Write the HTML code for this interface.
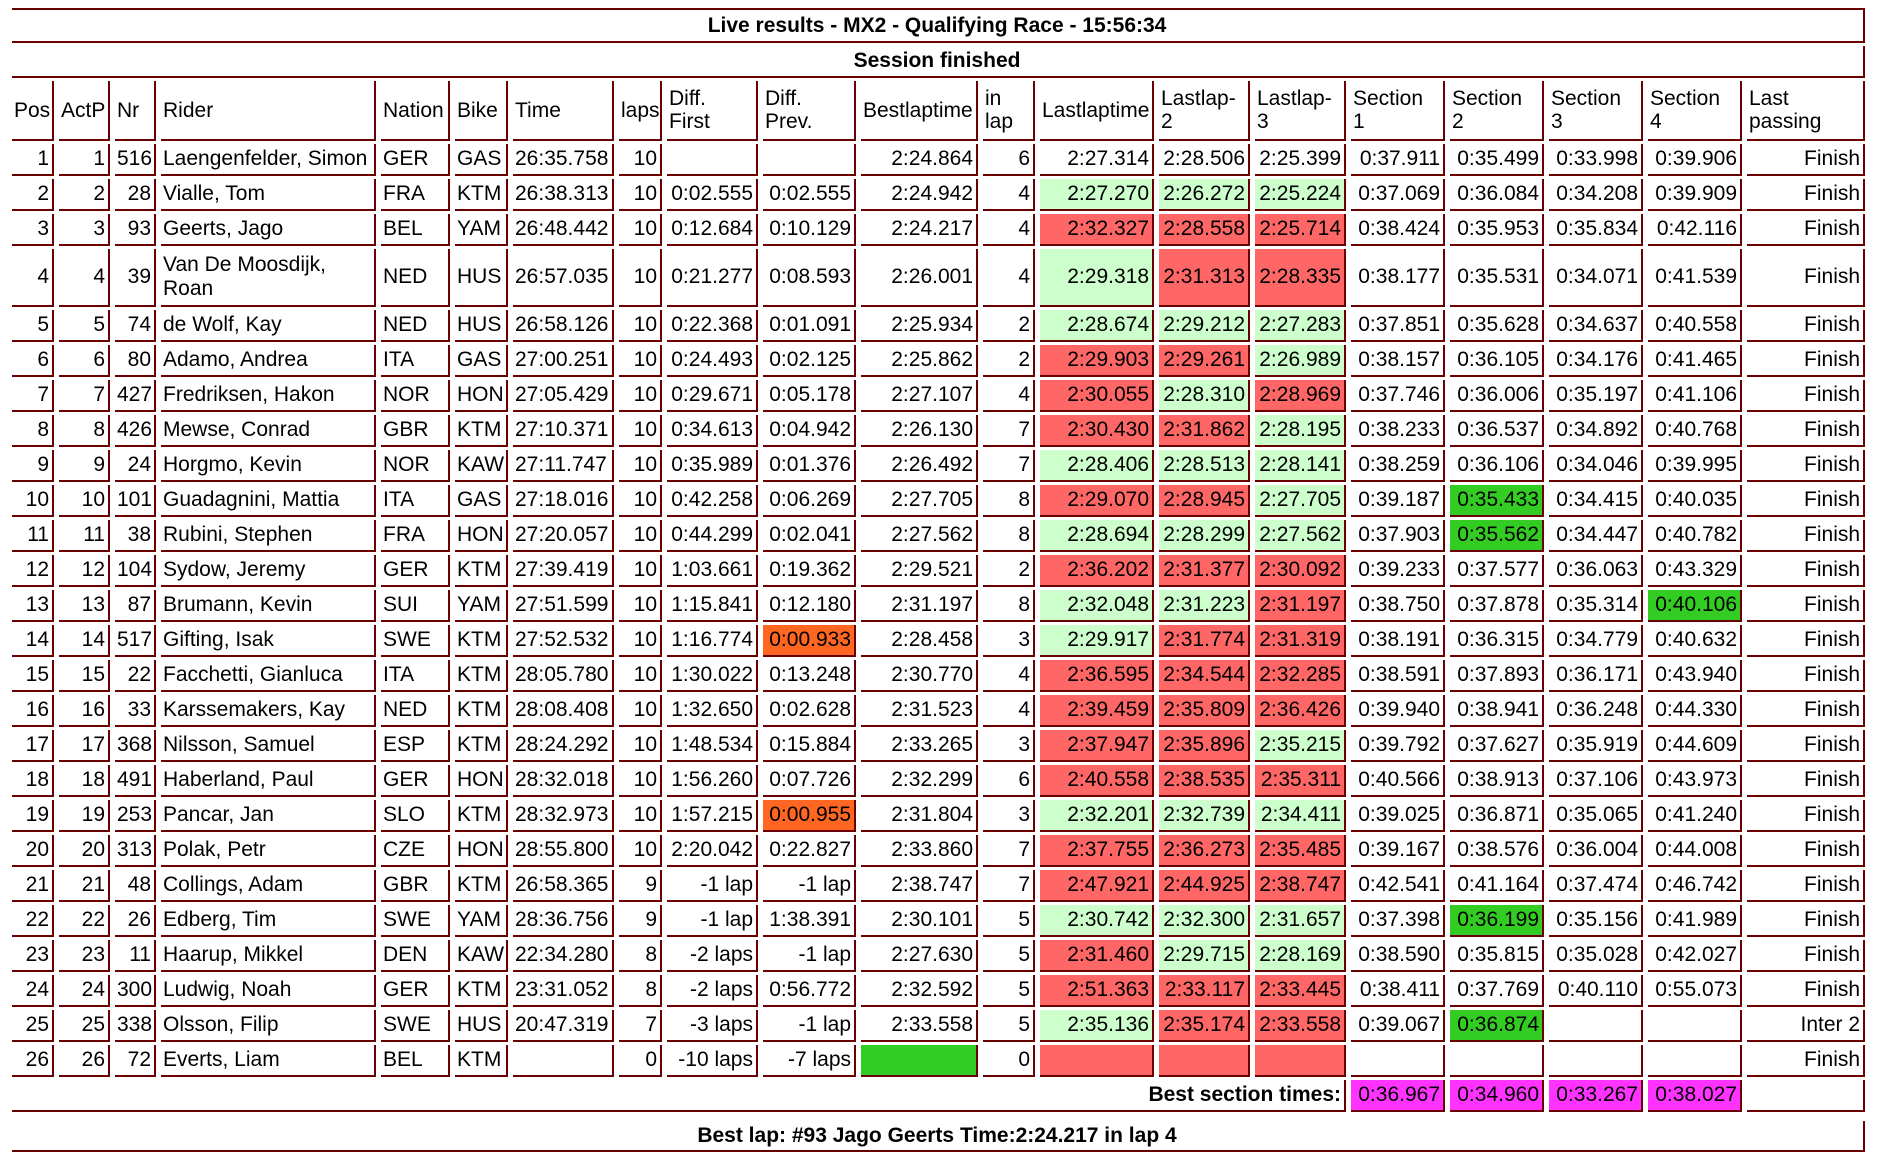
<!DOCTYPE html>
<html><head><meta charset="utf-8">
<style>
html,body{margin:0;padding:0;background:#fff;width:1886px;height:1166px;overflow:hidden;}
body{font-family:"Liberation Sans",Arial,sans-serif;font-size:21px;color:#000;position:relative;}
table{border-collapse:separate;border-spacing:5px 3px;table-layout:fixed;position:absolute;left:7px;}
td{box-sizing:border-box;border-right:2px solid #6b0000;border-bottom:2px solid #6b0000;padding:0 3px 0 2px;height:32px;text-align:right;white-space:nowrap;overflow:hidden;line-height:24px;}
td.l{text-align:left;}
tr.h td{height:60px;text-align:left;white-space:normal;line-height:23px;}
tr.t td{font-weight:bold;text-align:center;}
tr.tall td{height:58px;white-space:normal;}
.g{background:#ccffcc;}.r{background:#ff6666;}.G{background:#33cc22;}.o{background:#ff6622;}.m{background:#ff33ff;}
</style></head><body>
<table id="t1" style="top:5px;width:1863px">
<colgroup><col style="width:42px"><col style="width:51px"><col style="width:41px"><col style="width:215px"><col style="width:69px"><col style="width:53px"><col style="width:101px"><col style="width:43px"><col style="width:91px"><col style="width:93px"><col style="width:117px"><col style="width:52px"><col style="width:114px"><col style="width:91px"><col style="width:91px"><col style="width:94px"><col style="width:94px"><col style="width:94px"><col style="width:94px"><col style="width:118px"></colgroup>
<tr class="t"><td colspan="20" style="border-top:2px solid #6b0000;height:35px">Live results - MX2 - Qualifying Race - 15:56:34</td></tr>
<tr class="t"><td colspan="20">Session finished</td></tr>
<tr class="h"><td>Pos</td><td>ActP</td><td>Nr</td><td>Rider</td><td>Nation</td><td>Bike</td><td>Time</td><td>laps</td><td>Diff.<br>First</td><td>Diff.<br>Prev.</td><td>Bestlaptime</td><td>in<br>lap</td><td>Lastlaptime</td><td>Lastlap-<br>2</td><td>Lastlap-<br>3</td><td>Section<br>1</td><td>Section<br>2</td><td>Section<br>3</td><td>Section<br>4</td><td>Last<br>passing</td></tr>
<tr><td>1</td><td>1</td><td>516</td><td class="l">Laengenfelder, Simon</td><td class="l">GER</td><td class="l">GAS</td><td class="l">26:35.758</td><td>10</td><td></td><td></td><td>2:24.864</td><td>6</td><td>2:27.314</td><td>2:28.506</td><td>2:25.399</td><td>0:37.911</td><td>0:35.499</td><td>0:33.998</td><td>0:39.906</td><td>Finish</td></tr>
<tr><td>2</td><td>2</td><td>28</td><td class="l">Vialle, Tom</td><td class="l">FRA</td><td class="l">KTM</td><td class="l">26:38.313</td><td>10</td><td>0:02.555</td><td>0:02.555</td><td>2:24.942</td><td>4</td><td class="g">2:27.270</td><td class="g">2:26.272</td><td class="g">2:25.224</td><td>0:37.069</td><td>0:36.084</td><td>0:34.208</td><td>0:39.909</td><td>Finish</td></tr>
<tr><td>3</td><td>3</td><td>93</td><td class="l">Geerts, Jago</td><td class="l">BEL</td><td class="l">YAM</td><td class="l">26:48.442</td><td>10</td><td>0:12.684</td><td>0:10.129</td><td>2:24.217</td><td>4</td><td class="r">2:32.327</td><td class="r">2:28.558</td><td class="r">2:25.714</td><td>0:38.424</td><td>0:35.953</td><td>0:35.834</td><td>0:42.116</td><td>Finish</td></tr>
<tr class="tall"><td>4</td><td>4</td><td>39</td><td class="l">Van De Moosdijk, Roan</td><td class="l">NED</td><td class="l">HUS</td><td class="l">26:57.035</td><td>10</td><td>0:21.277</td><td>0:08.593</td><td>2:26.001</td><td>4</td><td class="g">2:29.318</td><td class="r">2:31.313</td><td class="r">2:28.335</td><td>0:38.177</td><td>0:35.531</td><td>0:34.071</td><td>0:41.539</td><td>Finish</td></tr>
<tr><td>5</td><td>5</td><td>74</td><td class="l">de Wolf, Kay</td><td class="l">NED</td><td class="l">HUS</td><td class="l">26:58.126</td><td>10</td><td>0:22.368</td><td>0:01.091</td><td>2:25.934</td><td>2</td><td class="g">2:28.674</td><td class="g">2:29.212</td><td class="g">2:27.283</td><td>0:37.851</td><td>0:35.628</td><td>0:34.637</td><td>0:40.558</td><td>Finish</td></tr>
<tr><td>6</td><td>6</td><td>80</td><td class="l">Adamo, Andrea</td><td class="l">ITA</td><td class="l">GAS</td><td class="l">27:00.251</td><td>10</td><td>0:24.493</td><td>0:02.125</td><td>2:25.862</td><td>2</td><td class="r">2:29.903</td><td class="r">2:29.261</td><td class="g">2:26.989</td><td>0:38.157</td><td>0:36.105</td><td>0:34.176</td><td>0:41.465</td><td>Finish</td></tr>
<tr><td>7</td><td>7</td><td>427</td><td class="l">Fredriksen, Hakon</td><td class="l">NOR</td><td class="l">HON</td><td class="l">27:05.429</td><td>10</td><td>0:29.671</td><td>0:05.178</td><td>2:27.107</td><td>4</td><td class="r">2:30.055</td><td class="g">2:28.310</td><td class="r">2:28.969</td><td>0:37.746</td><td>0:36.006</td><td>0:35.197</td><td>0:41.106</td><td>Finish</td></tr>
<tr><td>8</td><td>8</td><td>426</td><td class="l">Mewse, Conrad</td><td class="l">GBR</td><td class="l">KTM</td><td class="l">27:10.371</td><td>10</td><td>0:34.613</td><td>0:04.942</td><td>2:26.130</td><td>7</td><td class="r">2:30.430</td><td class="r">2:31.862</td><td class="g">2:28.195</td><td>0:38.233</td><td>0:36.537</td><td>0:34.892</td><td>0:40.768</td><td>Finish</td></tr>
<tr><td>9</td><td>9</td><td>24</td><td class="l">Horgmo, Kevin</td><td class="l">NOR</td><td class="l">KAW</td><td class="l">27:11.747</td><td>10</td><td>0:35.989</td><td>0:01.376</td><td>2:26.492</td><td>7</td><td class="g">2:28.406</td><td class="g">2:28.513</td><td class="g">2:28.141</td><td>0:38.259</td><td>0:36.106</td><td>0:34.046</td><td>0:39.995</td><td>Finish</td></tr>
<tr><td>10</td><td>10</td><td>101</td><td class="l">Guadagnini, Mattia</td><td class="l">ITA</td><td class="l">GAS</td><td class="l">27:18.016</td><td>10</td><td>0:42.258</td><td>0:06.269</td><td>2:27.705</td><td>8</td><td class="r">2:29.070</td><td class="r">2:28.945</td><td class="g">2:27.705</td><td>0:39.187</td><td class="G">0:35.433</td><td>0:34.415</td><td>0:40.035</td><td>Finish</td></tr>
<tr><td>11</td><td>11</td><td>38</td><td class="l">Rubini, Stephen</td><td class="l">FRA</td><td class="l">HON</td><td class="l">27:20.057</td><td>10</td><td>0:44.299</td><td>0:02.041</td><td>2:27.562</td><td>8</td><td class="g">2:28.694</td><td class="g">2:28.299</td><td class="g">2:27.562</td><td>0:37.903</td><td class="G">0:35.562</td><td>0:34.447</td><td>0:40.782</td><td>Finish</td></tr>
<tr><td>12</td><td>12</td><td>104</td><td class="l">Sydow, Jeremy</td><td class="l">GER</td><td class="l">KTM</td><td class="l">27:39.419</td><td>10</td><td>1:03.661</td><td>0:19.362</td><td>2:29.521</td><td>2</td><td class="r">2:36.202</td><td class="r">2:31.377</td><td class="r">2:30.092</td><td>0:39.233</td><td>0:37.577</td><td>0:36.063</td><td>0:43.329</td><td>Finish</td></tr>
<tr><td>13</td><td>13</td><td>87</td><td class="l">Brumann, Kevin</td><td class="l">SUI</td><td class="l">YAM</td><td class="l">27:51.599</td><td>10</td><td>1:15.841</td><td>0:12.180</td><td>2:31.197</td><td>8</td><td class="g">2:32.048</td><td class="g">2:31.223</td><td class="r">2:31.197</td><td>0:38.750</td><td>0:37.878</td><td>0:35.314</td><td class="G">0:40.106</td><td>Finish</td></tr>
<tr><td>14</td><td>14</td><td>517</td><td class="l">Gifting, Isak</td><td class="l">SWE</td><td class="l">KTM</td><td class="l">27:52.532</td><td>10</td><td>1:16.774</td><td class="o">0:00.933</td><td>2:28.458</td><td>3</td><td class="g">2:29.917</td><td class="r">2:31.774</td><td class="r">2:31.319</td><td>0:38.191</td><td>0:36.315</td><td>0:34.779</td><td>0:40.632</td><td>Finish</td></tr>
<tr><td>15</td><td>15</td><td>22</td><td class="l">Facchetti, Gianluca</td><td class="l">ITA</td><td class="l">KTM</td><td class="l">28:05.780</td><td>10</td><td>1:30.022</td><td>0:13.248</td><td>2:30.770</td><td>4</td><td class="r">2:36.595</td><td class="r">2:34.544</td><td class="r">2:32.285</td><td>0:38.591</td><td>0:37.893</td><td>0:36.171</td><td>0:43.940</td><td>Finish</td></tr>
<tr><td>16</td><td>16</td><td>33</td><td class="l">Karssemakers, Kay</td><td class="l">NED</td><td class="l">KTM</td><td class="l">28:08.408</td><td>10</td><td>1:32.650</td><td>0:02.628</td><td>2:31.523</td><td>4</td><td class="r">2:39.459</td><td class="r">2:35.809</td><td class="r">2:36.426</td><td>0:39.940</td><td>0:38.941</td><td>0:36.248</td><td>0:44.330</td><td>Finish</td></tr>
<tr><td>17</td><td>17</td><td>368</td><td class="l">Nilsson, Samuel</td><td class="l">ESP</td><td class="l">KTM</td><td class="l">28:24.292</td><td>10</td><td>1:48.534</td><td>0:15.884</td><td>2:33.265</td><td>3</td><td class="r">2:37.947</td><td class="r">2:35.896</td><td class="g">2:35.215</td><td>0:39.792</td><td>0:37.627</td><td>0:35.919</td><td>0:44.609</td><td>Finish</td></tr>
<tr><td>18</td><td>18</td><td>491</td><td class="l">Haberland, Paul</td><td class="l">GER</td><td class="l">HON</td><td class="l">28:32.018</td><td>10</td><td>1:56.260</td><td>0:07.726</td><td>2:32.299</td><td>6</td><td class="r">2:40.558</td><td class="r">2:38.535</td><td class="r">2:35.311</td><td>0:40.566</td><td>0:38.913</td><td>0:37.106</td><td>0:43.973</td><td>Finish</td></tr>
<tr><td>19</td><td>19</td><td>253</td><td class="l">Pancar, Jan</td><td class="l">SLO</td><td class="l">KTM</td><td class="l">28:32.973</td><td>10</td><td>1:57.215</td><td class="o">0:00.955</td><td>2:31.804</td><td>3</td><td class="g">2:32.201</td><td class="g">2:32.739</td><td class="g">2:34.411</td><td>0:39.025</td><td>0:36.871</td><td>0:35.065</td><td>0:41.240</td><td>Finish</td></tr>
<tr><td>20</td><td>20</td><td>313</td><td class="l">Polak, Petr</td><td class="l">CZE</td><td class="l">HON</td><td class="l">28:55.800</td><td>10</td><td>2:20.042</td><td>0:22.827</td><td>2:33.860</td><td>7</td><td class="r">2:37.755</td><td class="r">2:36.273</td><td class="r">2:35.485</td><td>0:39.167</td><td>0:38.576</td><td>0:36.004</td><td>0:44.008</td><td>Finish</td></tr>
<tr><td>21</td><td>21</td><td>48</td><td class="l">Collings, Adam</td><td class="l">GBR</td><td class="l">KTM</td><td class="l">26:58.365</td><td>9</td><td>-1 lap</td><td>-1 lap</td><td>2:38.747</td><td>7</td><td class="r">2:47.921</td><td class="r">2:44.925</td><td class="r">2:38.747</td><td>0:42.541</td><td>0:41.164</td><td>0:37.474</td><td>0:46.742</td><td>Finish</td></tr>
<tr><td>22</td><td>22</td><td>26</td><td class="l">Edberg, Tim</td><td class="l">SWE</td><td class="l">YAM</td><td class="l">28:36.756</td><td>9</td><td>-1 lap</td><td>1:38.391</td><td>2:30.101</td><td>5</td><td class="g">2:30.742</td><td class="g">2:32.300</td><td class="g">2:31.657</td><td>0:37.398</td><td class="G">0:36.199</td><td>0:35.156</td><td>0:41.989</td><td>Finish</td></tr>
<tr><td>23</td><td>23</td><td>11</td><td class="l">Haarup, Mikkel</td><td class="l">DEN</td><td class="l">KAW</td><td class="l">22:34.280</td><td>8</td><td>-2 laps</td><td>-1 lap</td><td>2:27.630</td><td>5</td><td class="r">2:31.460</td><td class="g">2:29.715</td><td class="g">2:28.169</td><td>0:38.590</td><td>0:35.815</td><td>0:35.028</td><td>0:42.027</td><td>Finish</td></tr>
<tr><td>24</td><td>24</td><td>300</td><td class="l">Ludwig, Noah</td><td class="l">GER</td><td class="l">KTM</td><td class="l">23:31.052</td><td>8</td><td>-2 laps</td><td>0:56.772</td><td>2:32.592</td><td>5</td><td class="r">2:51.363</td><td class="r">2:33.117</td><td class="r">2:33.445</td><td>0:38.411</td><td>0:37.769</td><td>0:40.110</td><td>0:55.073</td><td>Finish</td></tr>
<tr><td>25</td><td>25</td><td>338</td><td class="l">Olsson, Filip</td><td class="l">SWE</td><td class="l">HUS</td><td class="l">20:47.319</td><td>7</td><td>-3 laps</td><td>-1 lap</td><td>2:33.558</td><td>5</td><td class="g">2:35.136</td><td class="r">2:35.174</td><td class="r">2:33.558</td><td>0:39.067</td><td class="G">0:36.874</td><td></td><td></td><td>Inter 2</td></tr>
<tr><td>26</td><td>26</td><td>72</td><td class="l">Everts, Liam</td><td class="l">BEL</td><td class="l">KTM</td><td class="l"></td><td>0</td><td>-10 laps</td><td>-7 laps</td><td class="G"></td><td>0</td><td class="r"></td><td class="r"></td><td class="r"></td><td></td><td></td><td></td><td></td><td>Finish</td></tr>
<tr><td colspan="15" style="font-weight:bold">Best section times:</td><td class="m">0:36.967</td><td class="m">0:34.960</td><td class="m">0:33.267</td><td class="m">0:38.027</td><td></td></tr>
</table>
<table style="top:1118px;width:1863px">
<tr class="t"><td style="height:31px">Best lap: #93 Jago Geerts Time:2:24.217 in lap 4</td></tr>
</table>
</body></html>
